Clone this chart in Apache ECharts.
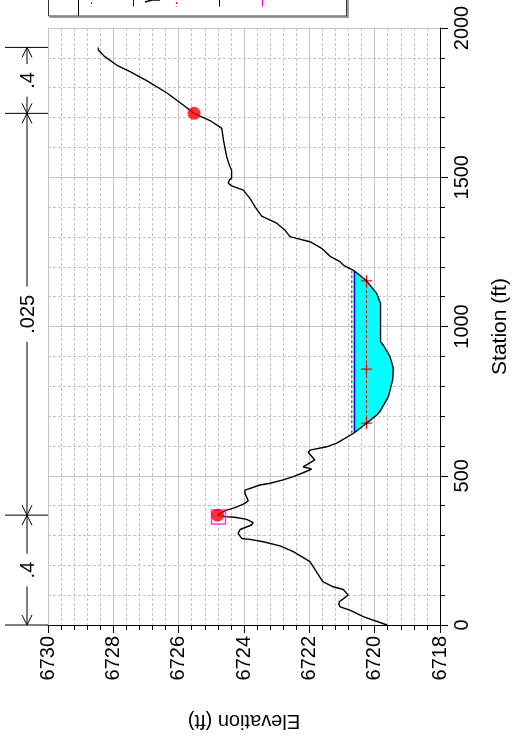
<!DOCTYPE html>
<html><head><meta charset="utf-8">
<script src="https://cdn.jsdelivr.net/npm/echarts@6/dist/echarts.min.js"></script>
<style>html,body{margin:0;padding:0;background:#fff}#c{width:519px;height:738px}</style>
</head><body><div id="c"></div>
<script>
// ---- data ----
const groundStation = [0, 28, 50, 61, 70, 78, 100, 119, 128, 145, 212, 246, 265, 279, 287, 290, 307, 320, 335, 343, 354, 361, 363, 368, 383, 393, 405, 416, 441, 452, 469, 475, 486, 497, 510, 522, 530, 553, 578, 586, 597, 609, 644, 676, 703, 715, 765, 821, 860, 899, 938, 949, 1077, 1111, 1153, 1186, 1206, 1217, 1234, 1262, 1284, 1295, 1301, 1323, 1346, 1370, 1401, 1429, 1457, 1471, 1480, 1491, 1496, 1524, 1541, 1569, 1597, 1625, 1664, 1690, 1714, 1742, 1783, 1824, 1854, 1876, 1904, 1926, 1935];
const groundElev = [6719.62, 6720.35, 6720.76, 6721.06, 6721.10, 6721.08, 6720.81, 6720.96, 6721.27, 6721.59, 6721.98, 6722.49, 6722.90, 6723.41, 6723.82, 6724.07, 6724.18, 6724.12, 6723.77, 6723.72, 6723.92, 6724.28, 6724.58, 6724.81, 6724.58, 6724.28, 6724.02, 6723.87, 6723.97, 6723.97, 6723.51, 6723.20, 6722.80, 6722.49, 6722.19, 6721.93, 6722.19, 6721.83, 6722.03, 6721.98, 6721.47, 6721.16, 6720.62, 6720.25, 6719.94, 6719.84, 6719.58, 6719.45, 6719.43, 6719.53, 6719.74, 6719.82, 6719.82, 6719.94, 6720.25, 6720.62, 6720.96, 6721.06, 6721.35, 6721.62, 6721.98, 6722.39, 6722.59, 6722.75, 6723.00, 6723.46, 6723.66, 6723.82, 6724.02, 6724.38, 6724.48, 6724.45, 6724.38, 6724.38, 6724.45, 6724.53, 6724.58, 6724.63, 6724.68, 6725.04, 6725.53, 6725.86, 6726.37, 6726.98, 6727.49, 6727.90, 6728.26, 6728.46, 6728.46];
const bankStation = [368, 1714];
const bankElev = [6724.81, 6725.53];
const leveeStation = [362];
const leveeElev = [6724.78];
const wsElev = 6720.62;
const wsStations = [644, 1186];
const egElev = 6720.70;
const egStations = [642, 1187];
const critElev = 6720.25;
const critStations = [676, 857, 1153];
const nBounds = [0, 368, 1714, 1935];
const nValues = ['.4', '.025', '.4'];
const elevMin = 6718, elevMax = 6730, elevStep = 2;
const staMin = 0, staMax = 2000, staStep = 500;

// ---- chart ----
const FONT = 'Liberation Sans, Arial, sans-serif';
const chart = echarts.init(document.getElementById('c'), null, {renderer: 'canvas'});

const groundData = groundStation.map((s, i) => [groundElev[i], s]);
const plusPath = 'path://M4.4,0h1.2v4.4h4.4v1.2h-4.4v4.4h-1.2v-4.4h-4.4v-1.2h4.4z';

const waterSeries = {
  type: 'custom', silent: true, z: 1,
  data: [[wsElev, wsStations[0]]],
  renderItem: (params, api) => {
    const pts = [api.coord([wsElev, wsStations[0]])];
    for (let i = 0; i < groundStation.length; i++) {
      if (groundStation[i] > wsStations[0] && groundStation[i] < wsStations[1]) {
        pts.push(api.coord([groundElev[i], groundStation[i]]));
      }
    }
    pts.push(api.coord([wsElev, wsStations[1]]));
    return {type: 'polygon', shape: {points: pts}, style: {fill: '#00ffff', stroke: null}};
  }
};

const nSeries = {
  type: 'custom', silent: true, z: 5,
  data: [[elevMax, nBounds[0]]],
  renderItem: (params, api) => {
    const cs = params.coordSys;
    const x0 = cs.x - 43, x1 = cs.x;
    const xv = cs.x - 21;
    const children = [];
    const ys = nBounds.map(b => api.coord([elevMax, b])[1]);
    ys.forEach(y => {
      children.push({type: 'line', shape: {x1: x0, y1: y, x2: x1, y2: y}, style: {stroke: '#000', lineWidth: 1}});
    });
    for (let i = 0; i < nValues.length; i++) {
      const ya = ys[i], yb = ys[i + 1];
      children.push({type: 'line', shape: {x1: xv, y1: ya, x2: xv, y2: yb}, style: {stroke: '#000', lineWidth: 1}});
      const dirA = yb < ya ? 1 : -1;
      children.push({type: 'polyline', shape: {points: [[xv - 5, ya - dirA * 10], [xv, ya], [xv + 5, ya - dirA * 10]]}, style: {stroke: '#000', lineWidth: 1, fill: null}});
      children.push({type: 'polyline', shape: {points: [[xv - 5, yb + dirA * 10], [xv, yb], [xv + 5, yb + dirA * 10]]}, style: {stroke: '#000', lineWidth: 1, fill: null}});
      children.push({
        type: 'text', x: xv + 1, y: (ya + yb) / 2, rotation: Math.PI / 2,
        style: {text: nValues[i], fontSize: 20, fontFamily: FONT, fill: '#000', align: 'center', verticalAlign: 'middle',
                backgroundColor: '#fff', padding: [0, 8]}
      });
    }
    return {type: 'group', children: children};
  }
};

const plain = v => String(v);

const option = {
  backgroundColor: '#fff',
  animation: false,
  grid: {left: 48, top: 28, width: 392, height: 597, containLabel: false},
  xAxis: {
    type: 'value', min: elevMin, max: elevMax, interval: elevStep, inverse: true, position: 'bottom',
    axisLine: {show: true, onZero: false, lineStyle: {color: '#000', width: 1}},
    axisTick: {show: true, length: 8, lineStyle: {color: '#000'}},
    minorTick: {show: true, splitNumber: 5, length: 5, lineStyle: {color: '#000'}},
    axisLabel: {rotate: 90, margin: 11, fontSize: 20, color: '#000', fontFamily: FONT, formatter: plain},
    splitLine: {show: true, lineStyle: {color: '#c4c4c4', width: 1}},
    minorSplitLine: {show: true, lineStyle: {color: '#c4c4c4', width: 1, type: [3, 2]}},
    name: 'Elevation (ft)', nameLocation: 'middle', nameRotate: 180, nameGap: 86,
    nameTextStyle: {fontSize: 20, color: '#000', fontFamily: FONT}
  },
  yAxis: {
    type: 'value', min: staMin, max: staMax, interval: staStep, position: 'right',
    axisLine: {show: true, onZero: false, lineStyle: {color: '#000', width: 1}},
    axisTick: {show: true, length: 8, lineStyle: {color: '#000'}},
    minorTick: {show: true, splitNumber: 5, length: 5, lineStyle: {color: '#000'}},
    axisLabel: {rotate: 90, margin: 12, fontSize: 20, color: '#000', fontFamily: FONT, formatter: plain},
    splitLine: {show: true, lineStyle: {color: '#c4c4c4', width: 1}},
    minorSplitLine: {show: true, lineStyle: {color: '#c4c4c4', width: 1, type: [3, 2]}},
    name: 'Station (ft)', nameLocation: 'middle', nameRotate: 90, nameGap: 50,
    nameTextStyle: {fontSize: 21, color: '#000', fontFamily: FONT}
  },
  graphic: [
    {type: 'rect', shape: {x: 48.5, y: -30, width: 298, height: 46}, style: {fill: '#fff', stroke: '#333', lineWidth: 1}, z: 10},
    {type: 'polyline', shape: {points: [[49.5, 17], [348, 17], [348, -30]]}, style: {stroke: '#808080', lineWidth: 1.5, fill: null}, z: 10},
    {type: 'line', shape: {x1: 78.5, y1: -30, x2: 78.5, y2: 16}, style: {stroke: '#000', lineWidth: 1}, z: 11},
    {type: 'line', shape: {x1: 91.5, y1: -10, x2: 91.5, y2: 6.5}, style: {stroke: '#008000', lineWidth: 1, lineDash: [2, 2]}, z: 11},
    {type: 'line', shape: {x1: 133.5, y1: -10, x2: 133.5, y2: 6.5}, style: {stroke: '#0000ff', lineWidth: 1}, z: 11},
    {type: 'polyline', shape: {points: [[145, 2], [152, 0], [160, 0]]}, style: {stroke: '#000', lineWidth: 1.5, fill: null}, z: 11},
    {type: 'line', shape: {x1: 176.5, y1: -10, x2: 176.5, y2: 6.5}, style: {stroke: '#ff0000', lineWidth: 1, lineDash: [2, 2]}, z: 11},
    {type: 'line', shape: {x1: 219.5, y1: -10, x2: 219.5, y2: 6.5}, style: {stroke: '#000', lineWidth: 1}, z: 11},
    {type: 'line', shape: {x1: 262.5, y1: -10, x2: 262.5, y2: 6.5}, style: {stroke: '#ff00ff', lineWidth: 1}, z: 11}
  ],
  series: [
    waterSeries,
    {type: 'line', name: 'EG', data: egStations.map(s => [egElev, s]), showSymbol: false, silent: true, z: 2,
     lineStyle: {color: '#008000', width: 1.2, type: [3, 2]}},
    {type: 'line', name: 'WS', data: wsStations.map(s => [wsElev, s]), showSymbol: false, silent: true, z: 3,
     lineStyle: {color: '#0000ff', width: 1.5}},
    {type: 'line', name: 'Crit', data: critStations.map(s => [critElev, s]), symbol: plusPath, symbolSize: 11, showSymbol: true, silent: true, z: 3,
     itemStyle: {color: '#ff0000'}, lineStyle: {color: '#ff0000', width: 1, type: [3, 2]}},
    {type: 'line', name: 'Ground', data: groundData, showSymbol: false, silent: true, z: 4,
     lineStyle: {color: '#000', width: 1.4}},
    {type: 'scatter', name: 'Levee', data: leveeStation.map((s, i) => [leveeElev[i], s]), symbol: 'rect', symbolSize: 14, silent: true, z: 5,
     itemStyle: {color: 'rgba(0,0,0,0)', borderColor: '#ff00ff', borderWidth: 1.5}},
    {type: 'scatter', name: 'Bank Sta', data: bankStation.map((s, i) => [bankElev[i], s]), symbol: 'circle', symbolSize: 13, silent: true, z: 6,
     itemStyle: {color: '#ff0000'}},
    nSeries
  ]
};
chart.setOption(option);
</script>
</body></html>
